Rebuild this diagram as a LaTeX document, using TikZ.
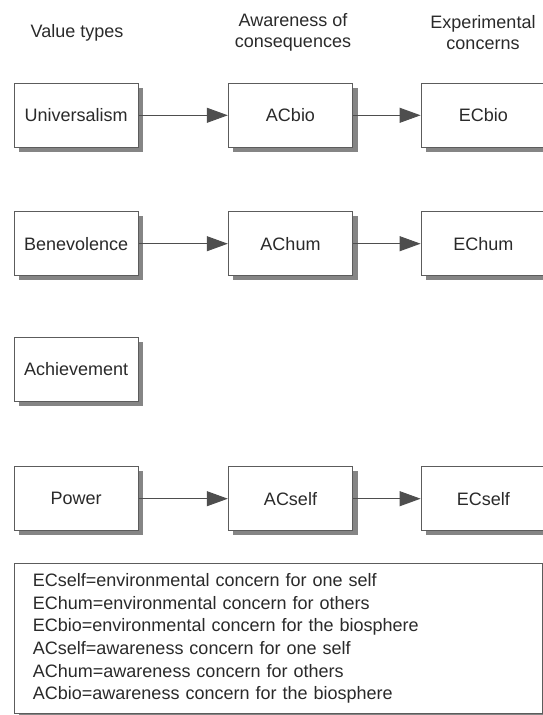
\documentclass[tikz,border=0pt]{standalone}
\usepackage{fontspec}
\setmainfont{Liberation Sans}
\usetikzlibrary{shadows,arrows.meta}
\definecolor{edgegray}{HTML}{5C5C5C}
\definecolor{inkgray}{HTML}{2A2A2A}
\definecolor{arrowgray}{HTML}{4E4E4E}
\begin{document}
\begin{tikzpicture}[x=1pt,y=-1pt,
  boxshadow/.style={drop shadow={shadow xshift=5pt,shadow yshift=-4.5pt,fill=black!48,opacity=1}},
  card/.style={draw=edgegray,line width=0.9pt,fill=white,boxshadow,
    minimum width=124.5pt,minimum height=64pt,inner sep=0pt,
    font=\fontsize{18}{21}\selectfont,text=inkgray},
  head/.style={align=center,inner sep=0pt,text=inkgray,
    font=\fontsize{18}{21.6}\selectfont},
  link/.style={draw=arrowgray,line width=1pt,-{Triangle[length=21pt,width=15pt]}}]

\useasboundingbox (0,0) rectangle (543,715);
\clip (0,0) rectangle (543,715);

% column headings
\node[head] (hval)   at (77,33.3)  {Value types};
\node[head] (haware) at (293,32.5) {Awareness of\\consequences};
\node[head] (hexp)   at (483,32.5) {Experimental\\concerns};

% value types
\node[card] (univ)    at (76.2,115.3) {Universalism};
\node[card] (benev)   at (76.2,243.7) {Benevolence};
\node[card] (achieve) at (76.2,369.3) {Achievement};
\node[card] (power)   at (76.2,498.7) {Power};

% awareness of consequences
\node[card] (acbio)  at (290.5,115.3) {ACbio};
\node[card] (achum)  at (290.5,243.7) {AChum};
\node[card] (acself) at (290.5,498.7) {ACself};

% environmental concerns
\node[card] (ecbio)  at (483.3,115.3) {ECbio};
\node[card] (echum)  at (483.3,243.7) {EChum};
\node[card] (ecself) at (483.3,498.7) {ECself};

% causal chains
\draw[link] (univ)   -- (acbio);
\draw[link] (acbio)  -- (ecbio);
\draw[link] (benev)  -- (achum);
\draw[link] (achum)  -- (echum);
\draw[link] (power)  -- (acself);
\draw[link] (acself) -- (ecself);

% legend
\node[draw=edgegray,line width=0.9pt,fill=white,boxshadow,anchor=north west,
  minimum width=527.7pt,minimum height=150.6pt,inner xsep=18.5pt,inner ysep=0pt,
  text width=490.7pt,align=left,text=inkgray,
  font=\fontsize{18}{22.6}\selectfont] (legend) at (14,562.7)
  {ECself=environmental concern for one self\\
   EChum=environmental concern for others\\
   ECbio=environmental concern for the biosphere\\
   ACself=awareness concern for one self\\
   AChum=awareness concern for others\\
   ACbio=awareness concern for the biosphere};
\end{tikzpicture}
\end{document}
